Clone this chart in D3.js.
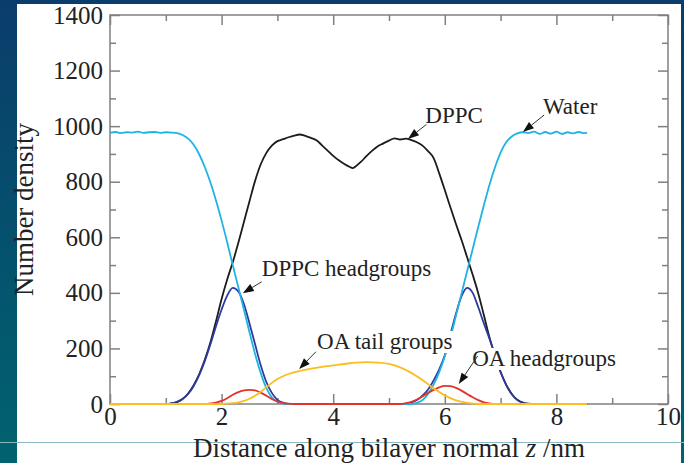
<!DOCTYPE html>
<html>
<head>
<meta charset="utf-8">
<script src="https://d3js.org/d3.v7.min.js"></script>
<style>
  body { margin: 0; }
  svg { display: block; }
</style>
</head>
<body>
<div id="chart"></div>
<script>
// density profiles, [z (nm), number density]
const water = [[0,976],[0.1,979],[0.2,975],[0.3,978],[0.4,977],[0.5,980],[0.6,976],[0.7,978],[0.8,979],[0.9,976],
  [1.0,978],[1.1,977],[1.2,975],[1.3,968],[1.4,955],[1.5,933],[1.6,898],[1.7,852],[1.8,797],[1.9,732],[2.0,660],
  [2.1,582],[2.2,500],[2.3,420],[2.4,340],[2.5,258],[2.6,180],[2.7,112],[2.8,58],[2.9,24],[3.0,8],[3.1,2],[3.2,0],
  [5.4,0],[5.5,4],[5.6,14],[5.7,36],[5.8,70],[5.9,115],[6.0,172],[6.1,240],[6.2,318],[6.3,398],[6.4,478],[6.5,558],
  [6.6,638],[6.7,715],[6.8,788],[6.9,852],[7.0,905],[7.1,942],[7.2,963],[7.3,974],[7.4,978],[7.5,975],[7.6,980],
  [7.7,972],[7.8,979],[7.9,973],[8.0,980],[8.1,972],[8.2,978],[8.3,974],[8.4,979],[8.5,975],[8.55,977]];

const dppc = [[0,0],[1.0,0],[1.1,2],[1.2,7],[1.3,18],[1.4,38],[1.5,68],[1.6,108],[1.7,160],[1.8,222],[1.9,298],
  [2.0,378],[2.1,448],[2.2,510],[2.3,580],[2.4,655],[2.5,730],[2.6,803],[2.7,862],[2.8,903],[2.9,930],[3.0,946],
  [3.1,953],[3.2,960],[3.3,966],[3.4,970],[3.5,965],[3.6,958],[3.7,949],[3.8,931],[3.9,912],[4.0,893],[4.1,877],
  [4.2,864],[4.3,853],[4.35,849],[4.4,855],[4.5,872],[4.6,893],[4.7,912],[4.8,928],[4.9,938],[5.0,948],[5.1,956],
  [5.2,952],[5.3,955],[5.4,950],[5.5,942],[5.6,930],[5.7,910],[5.8,885],[5.9,830],[6.0,770],[6.1,708],[6.2,648],
  [6.3,590],[6.4,528],[6.5,465],[6.6,398],[6.7,320],[6.8,240],[6.9,175],[7.0,115],[7.1,70],[7.2,36],[7.3,15],
  [7.4,5],[7.5,1],[7.6,0],[8.55,0]];

const dppcHead = [[0,0],[1.0,0],[1.1,2],[1.2,8],[1.3,18],[1.4,36],[1.5,65],[1.6,105],[1.7,155],[1.8,215],[1.9,280],
  [2.0,340],[2.1,390],[2.2,418],[2.3,405],[2.4,360],[2.5,290],[2.6,215],[2.7,140],[2.8,80],[2.9,40],[3.0,15],
  [3.1,5],[3.2,0],[5.3,0],[5.4,5],[5.5,14],[5.6,30],[5.7,52],[5.8,85],[5.9,125],[6.0,175],[6.1,250],[6.2,325],
  [6.3,388],[6.4,418],[6.5,400],[6.6,348],[6.7,290],[6.8,235],[6.9,175],[7.0,115],[7.1,68],[7.2,35],[7.3,14],
  [7.4,4],[7.5,0],[8.55,0]];

const oaHead = [[0,0],[1.7,0],[1.8,2],[1.9,5],[2.0,11],[2.1,21],[2.2,33],[2.3,43],[2.4,49],[2.5,51],[2.6,49],
  [2.7,41],[2.8,30],[2.9,18],[3.0,9],[3.1,4],[3.2,1],[3.3,0],[5.2,0],[5.3,3],[5.4,8],[5.5,16],[5.6,27],[5.7,40],
  [5.8,51],[5.9,60],[6.0,65],[6.1,64],[6.2,58],[6.3,48],[6.4,36],[6.5,24],[6.6,14],[6.7,6],[6.8,2],[6.9,0],[8.55,0]];

const oaTail = [[0,0],[2.0,0],[2.1,1],[2.2,3],[2.3,6],[2.4,11],[2.5,19],[2.6,30],[2.7,44],[2.8,60],[2.9,76],
  [3.0,90],[3.1,100],[3.2,108],[3.4,119],[3.6,127],[3.8,134],[4.0,139],[4.2,144],[4.4,149],[4.6,151],[4.8,149],
  [5.0,144],[5.2,132],[5.4,112],[5.6,86],[5.8,57],[6.0,31],[6.2,13],[6.4,4],[6.6,0],[8.55,0]];

const xTicks = [0, 2, 4, 6, 8, 10];
const yTicks = [0, 200, 400, 600, 800, 1000, 1200, 1400];

// label text, text anchor [z, n], arrow tail [z, n], arrow tip [z, n]
const notes = [
  ["DPPC", [5.65, 1011], [5.67, 1006], [5.34, 954]],
  ["Water", [7.76, 1044], [7.78, 1040], [7.40, 979]],
  ["DPPC headgroups", [2.72, 461], [2.72, 440], [2.38, 399]],
  ["OA tail groups", [3.71, 198], [3.69, 188], [3.39, 126]],
  ["OA headgroups", [6.49, 137], [6.59, 173], [6.25, 72]]
];

const W = 684, H = 463;
const margin = {top: 15, right: 16, bottom: 59, left: 110};
const width = W - margin.left - margin.right,
      height = H - margin.top - margin.bottom;

const svg = d3.select("#chart").append("svg")
    .attr("width", W).attr("height", H);

const grad = svg.append("defs").append("linearGradient")
    .attr("id", "bg").attr("x1", 0).attr("y1", 0).attr("x2", 0).attr("y2", 1);
grad.append("stop").attr("offset", "0%").attr("stop-color", "#0a3d6b");
grad.append("stop").attr("offset", "100%").attr("stop-color", "#00636f");

svg.append("rect").attr("width", W).attr("height", H).attr("fill", "url(#bg)");
svg.append("rect").attr("x", 17).attr("y", 4).attr("width", 664).attr("height", H - 4).attr("fill", "#fff");
svg.append("line").attr("x1", 0).attr("x2", W).attr("y1", 442.5).attr("y2", 442.5)
    .attr("stroke", "#8bb9c1").attr("stroke-width", 1);

const g = svg.append("g").attr("transform", `translate(${margin.left},${margin.top})`);

const x = d3.scaleLinear().domain([0, 10]).range([0, width]);
const y = d3.scaleLinear().domain([0, 1400]).range([height, 0]);

const font = "'Liberation Serif', 'Times New Roman', serif";
const axisCol = "#808080";

function styleAxis(sel) {
  sel.select(".domain").remove();
  sel.selectAll(".tick line").attr("stroke", axisCol).attr("stroke-width", 1.5);
  sel.selectAll(".tick text").attr("fill", "#222").style("font-family", font).style("font-size", "25px");
}

// minor ticks on all sides
const minorX = d3.range(1, 10, 2), minorY = d3.range(100, 1400, 200);
g.append("g").attr("transform", `translate(0,${height})`)
    .call(d3.axisBottom(x).tickValues(minorX).tickSize(-6).tickFormat("")).call(styleAxis);
g.append("g").call(d3.axisTop(x).tickValues(minorX).tickSize(-6).tickFormat("")).call(styleAxis);
g.append("g").call(d3.axisLeft(y).tickValues(minorY).tickSize(-6).tickFormat("")).call(styleAxis);
g.append("g").attr("transform", `translate(${width},0)`)
    .call(d3.axisRight(y).tickValues(minorY).tickSize(-6).tickFormat("")).call(styleAxis);

// major ticks
g.append("g").attr("transform", `translate(0,${height})`)
    .call(d3.axisBottom(x).tickValues(xTicks).tickFormat(d3.format("d"))
      .tickSize(-10).tickSizeOuter(0).tickPadding(3)).call(styleAxis);
g.append("g").call(d3.axisTop(x).tickValues(xTicks).tickSize(-10).tickFormat("")).call(styleAxis);
g.append("g")
    .call(d3.axisLeft(y).tickValues(yTicks).tickFormat(d3.format("d"))
      .tickSize(-10).tickSizeOuter(0).tickPadding(7)).call(styleAxis);
g.append("g").attr("transform", `translate(${width},0)`)
    .call(d3.axisRight(y).tickValues(yTicks).tickSize(-10).tickFormat("")).call(styleAxis);

g.append("rect").attr("width", width).attr("height", height)
    .attr("fill", "none").attr("stroke", axisCol).attr("stroke-width", 1.5);

// curves
const line = d3.line().x(d => x(d[0])).y(d => y(d[1])).curve(d3.curveMonotoneX);
const series = [
  [dppc, "#1c1c1c"],
  [dppcHead, "#2d3b9e"],
  [water, "#1fb3e3"],
  [oaHead, "#e3342b"],
  [oaTail, "#fcbd1f"]
];
g.append("g").selectAll("path").data(series).join("path")
    .attr("d", d => line(d[0]))
    .attr("fill", "none")
    .attr("stroke", d => d[1])
    .attr("stroke-width", 1.8)
    .attr("stroke-linejoin", "round");

// annotations with arrows
const notesG = g.append("g");
notes.forEach(n => {
  const t = notesG.append("text")
      .attr("x", x(n[1][0])).attr("y", y(n[1][1]))
      .attr("fill", "#222")
      .style("font-family", font).style("font-size", "23px")
      .text(n[0]);
  const b = t.node().getBBox();
  notesG.insert("rect", () => t.node())
      .attr("x", b.x - 1).attr("y", b.y + 2).attr("width", b.width + 2).attr("height", b.height - 3)
      .attr("fill", "#fff");
  const x1 = x(n[2][0]), y1 = y(n[2][1]), x2 = x(n[3][0]), y2 = y(n[3][1]);
  const ang = Math.atan2(y2 - y1, x2 - x1), L = 11, Wd = 4;
  const bx = x2 - L * Math.cos(ang), by = y2 - L * Math.sin(ang);
  notesG.append("line").attr("x1", x1).attr("y1", y1).attr("x2", bx).attr("y2", by)
      .attr("stroke", "#333").attr("stroke-width", 1);
  notesG.append("path")
      .attr("d", `M${x2},${y2}L${bx - Wd * Math.sin(ang)},${by + Wd * Math.cos(ang)}L${bx + Wd * Math.sin(ang)},${by - Wd * Math.cos(ang)}Z`)
      .attr("fill", "#111");
});

// axis titles
svg.append("text")
    .attr("transform", `translate(33,${margin.top + height / 2}) rotate(-90)`)
    .attr("text-anchor", "middle").attr("fill", "#222")
    .style("font-family", font).style("font-size", "27px")
    .text("Number density");

const xt = svg.append("text")
    .attr("x", margin.left + width / 2).attr("y", 457)
    .attr("text-anchor", "middle").attr("fill", "#222")
    .style("font-family", font).style("font-size", "27px");
xt.append("tspan").text("Distance along bilayer normal ");
xt.append("tspan").style("font-style", "italic").text("z");
xt.append("tspan").text(" /nm");
</script>
</body>
</html>
